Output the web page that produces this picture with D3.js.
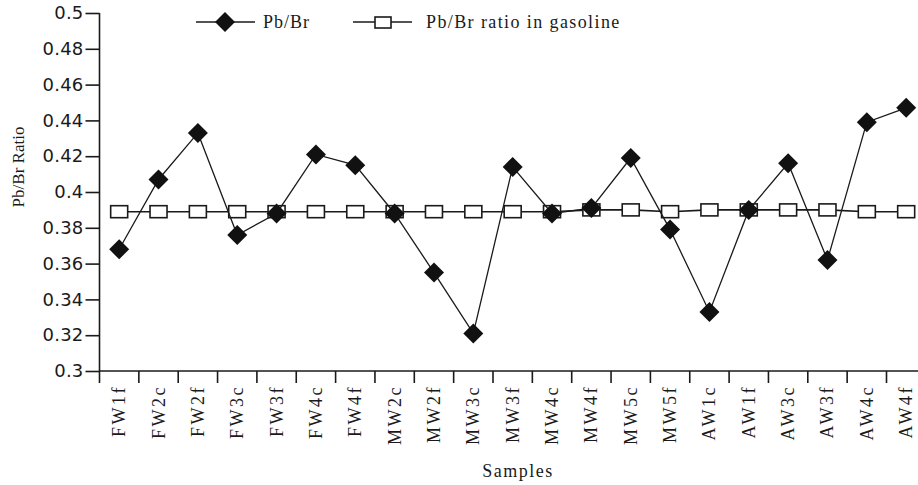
<!DOCTYPE html>
<html>
<head>
<meta charset="utf-8">
<script src="https://cdn.jsdelivr.net/npm/d3@7"></script>
<style>
  body { margin: 0; background: #fff; }
  svg { display: block; }
</style>
</head>
<body>
<div id="chart"></div>
<script>
// samples along the x axis
const samples = ['FW1f', 'FW2c', 'FW2f', 'FW3c', 'FW3f', 'FW4c', 'FW4f', 'MW2c', 'MW2f', 'MW3c', 'MW3f',
    'MW4c', 'MW4f', 'MW5c', 'MW5f', 'AW1c', 'AW1f', 'AW3c', 'AW3f', 'AW4c', 'AW4f'];

// measured Pb/Br ratio
const pbBr = [0.368, 0.407, 0.433, 0.376, 0.388, 0.421, 0.415, 0.388, 0.355, 0.321, 0.414,
    0.388, 0.391, 0.419, 0.379, 0.333, 0.390, 0.416, 0.362, 0.439, 0.447];

// Pb/Br ratio in gasoline
const gasoline = [0.389, 0.389, 0.389, 0.389, 0.389, 0.389, 0.389, 0.389, 0.389, 0.389, 0.389,
    0.389, 0.390, 0.390, 0.389, 0.390, 0.390, 0.390, 0.390, 0.389, 0.389];

const yTicks = [0.3, 0.32, 0.34, 0.36, 0.38, 0.4, 0.42, 0.44, 0.46, 0.48, 0.5];

const width = 918;
const height = 485;
const plotLeft = 99.5, plotTop = 13, plotBottom = 371;
const band = 39.35;

const svg = d3.select('#chart')
    .append('svg')
    .attr('width', width)
    .attr('height', height);

const x = d3.scaleBand()
    .domain(samples)
    .range([plotLeft, plotLeft + band * samples.length]);

const y = d3.scaleLinear()
    .domain([0.3, 0.5])
    .range([plotBottom, plotTop]);

const serif = '"Liberation Serif", "Times New Roman", serif';
const ink = '#1a1a1a';

// Y axis
const yAxis = svg.append('g')
    .attr('transform', `translate(${plotLeft}, 0)`)
    .call(d3.axisLeft(y).tickValues(yTicks).tickSize(14).tickPadding(2)
        .tickFormat(d => d3.format('')(+d.toFixed(2))));
yAxis.select('.domain').remove();
yAxis.selectAll('.tick line').attr('stroke', ink).attr('stroke-width', 1.6);
yAxis.selectAll('.tick text')
    .attr('fill', ink)
    .style('font-family', '"DejaVu Sans", Verdana, sans-serif')
    .style('font-size', '18px')
    .style('letter-spacing', '0.2px');
svg.append('line')
    .attr('x1', plotLeft).attr('x2', plotLeft)
    .attr('y1', plotTop).attr('y2', plotBottom + 12)
    .attr('stroke', ink).attr('stroke-width', 1.6);

// X axis: line, ticks on band boundaries, labels in band centres
svg.append('line')
    .attr('x1', plotLeft).attr('x2', width)
    .attr('y1', plotBottom).attr('y2', plotBottom)
    .attr('stroke', ink).attr('stroke-width', 1.6);

svg.append('g')
    .selectAll('line')
    .data(samples)
    .enter()
    .append('line')
    .attr('x1', d => x(d) + x.bandwidth())
    .attr('x2', d => x(d) + x.bandwidth())
    .attr('y1', plotBottom)
    .attr('y2', plotBottom + 12)
    .attr('stroke', ink)
    .attr('stroke-width', 1.6);

svg.append('g')
    .selectAll('text')
    .data(samples)
    .enter()
    .append('text')
    .attr('transform', d => `translate(${x(d) + x.bandwidth() / 2 + 6}, ${plotBottom + 14}) rotate(-90)`)
    .attr('text-anchor', 'end')
    .style('font-family', serif)
    .style('font-size', '18px')
    .style('letter-spacing', '2.5px')
    .attr('fill', ink)
    .text(d => d);

// axis titles
svg.append('text')
    .attr('transform', `translate(24, 167) rotate(-90)`)
    .attr('text-anchor', 'middle')
    .style('font-family', serif)
    .style('font-size', '17px')
    .attr('fill', ink)
    .text('Pb/Br Ratio');

svg.append('text')
    .attr('x', 518)
    .attr('y', 477)
    .attr('text-anchor', 'middle')
    .style('font-family', serif)
    .style('font-size', '18px')
    .style('letter-spacing', '1.5px')
    .attr('fill', ink)
    .text('Samples');

const cx = (d, i) => x(samples[i]) + x.bandwidth() / 2;

// gasoline series: line with open rectangles
svg.append('path')
    .datum(gasoline)
    .attr('fill', 'none')
    .attr('stroke', ink)
    .attr('stroke-width', 1.6)
    .attr('d', d3.line().x(cx).y(d => y(d)));

svg.append('g')
    .selectAll('rect')
    .data(gasoline)
    .enter()
    .append('rect')
    .attr('x', (d, i) => cx(d, i) - 8.5)
    .attr('y', d => y(d) - 6)
    .attr('width', 17)
    .attr('height', 12)
    .attr('fill', '#fff')
    .attr('stroke', ink)
    .attr('stroke-width', 1.6);

// measured series: line with filled diamonds
svg.append('path')
    .datum(pbBr)
    .attr('fill', 'none')
    .attr('stroke', ink)
    .attr('stroke-width', 1.3)
    .attr('d', d3.line().x(cx).y(d => y(d)));

const diamond = d3.symbol().type(d3.symbolSquare).size(200);
svg.append('g')
    .selectAll('path')
    .data(pbBr)
    .enter()
    .append('path')
    .attr('d', diamond)
    .attr('transform', (d, i) => `translate(${cx(d, i)}, ${y(d)}) rotate(45)`)
    .attr('fill', '#111');

// legend
const legend = svg.append('g');
legend.append('line')
    .attr('x1', 196).attr('x2', 255).attr('y1', 22).attr('y2', 22)
    .attr('stroke', ink).attr('stroke-width', 1.6);
legend.append('path')
    .attr('d', diamond)
    .attr('transform', 'translate(225, 22) rotate(45)')
    .attr('fill', '#111');
legend.append('text')
    .attr('x', 263).attr('y', 28)
    .style('font-family', serif)
    .style('font-size', '18px')
    .style('letter-spacing', '1px')
    .attr('fill', ink)
    .text('Pb/Br');

legend.append('line')
    .attr('x1', 353).attr('x2', 412).attr('y1', 22).attr('y2', 22)
    .attr('stroke', ink).attr('stroke-width', 1.6);
legend.append('rect')
    .attr('x', 375).attr('y', 17).attr('width', 16).attr('height', 11)
    .attr('fill', '#fff').attr('stroke', ink).attr('stroke-width', 1.6);
legend.append('text')
    .attr('x', 426).attr('y', 28)
    .style('font-family', serif)
    .style('font-size', '18px')
    .style('letter-spacing', '1.4px')
    .attr('fill', ink)
    .text('Pb/Br ratio in gasoline');
</script>
</body>
</html>
